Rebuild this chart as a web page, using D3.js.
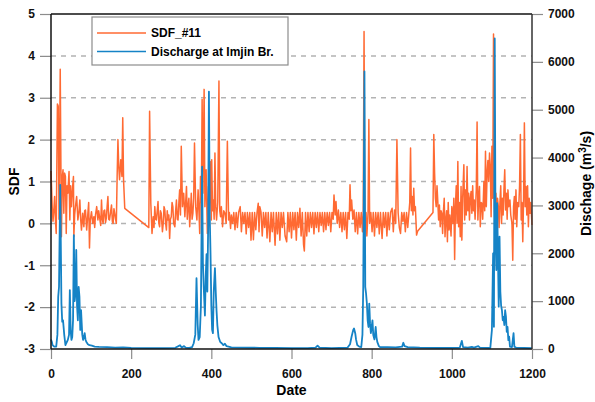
<!DOCTYPE html>
<html>
<head>
<meta charset="utf-8">
<script src="https://cdn.jsdelivr.net/npm/d3@7"></script>
<style>
  body { margin: 0; background: #fff; }
  text { font-family: "Liberation Sans", Arial, sans-serif; font-weight: bold; }
</style>
</head>
<body>
<svg id="SVG_CONTAINER" width="595" height="402"></svg>
<script>
let d3 = window.d3;

// SDF_#11 : [date, SDF]
const sdfData = [
  [0,1.25],[3,0.4],[5,0.05],[7,0.3],[9,0.64],[11,0.1],[13,-0.24],[16,2.85],[18,2.8],[20,0.1],
  [23,3.68],[26,-0.32],[28,1.1],[30,1.28],[32,0.24],[34,1.2],[36,1.12],[38,-0.24],[40,0.9],[42,0.72],
  [45,1.24],[47,0.08],[49,0.9],[51,0.4],[54,0.88],[56,1.12],[57,-0.32],[59,0.2],[61,0.4],[64,0.64],
  [67,0.08],[70,0.3],[72,0.56],[74,0.1],[76,-0.16],[79,0.24],[82,-0.08],[84,0.3],[86,0.32],[89,-0.16],
  [92,0.24],[94,0.5],[96,-0.59],[98,0.08],[101,0.28],[104,0],[107,0.16],[109,-0.1],[111,0.2],[114,0.4],
  [117,0.08],[119,0.3],[121,0.16],[124,-0.05],[126,0.56],[128,0.1],[130,0],[132,0.3],[134,0.32],[136,0.02],
  [138,0.12],[140,0.4],[142,0.64],[144,0.1],[146,0.08],[149,0.3],[151,0.44],[153,0.05],[155,0],[157,0.35],
  [159,0.24],[161,0.1],[163,0],
  [165,1.12],[167,2.0],[169,1.36],[171,1.04],[174,1.52],[177,1.12],[179,2.52],[181,1.04],[184,0.36],[244,-0.1],
  [246,2.68],[249,0.48],[252,-0.24],[255,0.16],[257,-0.1],[259,0.4],[261,0.1],[263,0.08],[265,0.3],[267,0.52],
  [269,0.0],[271,-0.08],[273,0.3],[275,0.24],[278,-0.2],[280,0],[282,0.4],[284,0.32],[286,0.0],[288,-0.16],
  [290,0.3],[292,0.08],[294,0.2],[296,-0.36],[298,0.1],[300,0.16],[302,0.5],[304,0.4],[306,0.0],[309,-0.08],
  [311,0.3],[313,0.56],[315,0.1],[317,0.08],[319,0.5],[321,0.8],[323,0.2],[325,1.84],[328,0.4],[331,0.72],
  [334,0.16],[336,0.5],[338,0.88],[340,0.1],[342,0.4],[344,0.6],[346,-0.08],[348,0.3],[350,0.72],[352,0.1],
  [354,0.24],[356,0.6],[358,1.92],[361,0.4],[364,0.08],[367,0.8],[369,0.3],[371,-0.24],[373,1.12],[375,0.5],
  [377,2.96],[379,0.72],[382,3.2],[384,0.4],[387,1.28],[390,-0.24],[393,0.88],[395,0.3],[397,1.48],[400,0.08],
  [401,1.52],[403,0.3],[405,0.56],[407,0.1],[409,1.68],[411,0.4],[413,0.08],[416,0.5],[419,3.4],[421,0.3],
  [423,0.16],[425,0.4],[428,-0.08],[431,0.3],[434,0.24],[437,0.0],[440,1.96],[443,0.08],[445,0.26],[448,-0.12],
  [450,0.2],[453,0],[456,0.26],[459,-0.15],
  [462,0.26],[465,-0.1],[468,0.26],[472,0.4],[475,-0.2],[478,0.26],[481,0.0],[484,0.26],[487,-0.25],[490,0.26],
  [493,-0.1],[496,0.26],[499,-0.4],[502,0.26],[505,-0.39],[508,0.26],[511,-0.15],[514,0.26],[517,0.48],[519,-0.2],
  [521,0.4],[524,0.26],[527,-0.3],[530,0.26],[533,-0.1],[536,0.26],[539,-0.35],[542,0.26],[546,-0.44],[549,0.26],
  [552,-0.2],[555,0.26],[559,-0.52],[562,0.26],[565,-0.25],[568,0.26],[571,-0.4],[574,0.26],[577,-0.1],[580,0.26],
  [584,-0.3],[588,-0.44],[591,0.26],[594,-0.2],[597,0.26],[600,-0.35],[603,0.26],[606,-0.15],[609,0.26],[612,-0.4],
  [615,0.26],[618,-0.1],[621,0.36],[624,-0.3],[627,0.26],[630,-0.5],[632,-0.66],[635,0.26],[638,-0.3],[641,0.26],
  [644,-0.2],[647,0.26],[650,-0.1],[653,0.26],[656,-0.25],[659,0.26],[662,-0.1],[665,0.26],[668,-0.2],[671,0.26],
  [674,-0.05],[677,0.26],[680,-0.2],[683,0.26],[686,-0.15],[689,0.26],[692,-0.05],[695,0.26],[698,-0.2],[701,0.26],
  [704,0.1],[706,0.68],[709,0.2],[711,0.52],[714,0.0],[717,0.32],[720,-0.1],[723,0.26],[726,-0.2],[729,0.26],
  [732,-0.15],[735,0.26],[738,-0.36],[741,0.26],[744,0.1],[746,0.92],[748,0.3],[750,0.56],[753,0.1],[756,0.32],
  [759,-0.2],[762,0.26],[765,-0.25],[768,0.26],[771,-0.1],[774,0.26],[777,-0.2],[779,0.26],[781,4.58],[783,-0.2],
  [786,0.26],[788,-0.3],[791,0.26],[793,2.48],[795,0.0],[798,0.26],[801,-0.2],[804,0.26],[807,-0.3],[810,0.26],
  [813,-0.1],[816,0.26],[819,-0.25],[822,0.26],[826,-0.36],[829,0.26],[832,-0.1],[835,0.26],[838,-0.3],[841,0.26],
  [844,-0.15],[847,0.26],[851,0.36],[854,-0.2],[857,0.32],[860,0.0],[863,2.0],[866,0.26],[869,-0.1],[872,-0.24],
  [875,0.26],[878,0.05],[881,0.26],[884,-0.2],[887,0.26],[890,-0.1],[893,0.26],[895,0.5],[897,1.8],[899,0.3],
  [901,0.64],[903,0.2],[905,0.84],[907,0.3],[909,0.4],[912,-0.28],[915,-0.18],[953,0.26],
  [955,2.12],[957,1.2],[959,0.6],[961,0.4],[963,0.9],[965,0.52],[967,0.08],[969,0.44],[971,-0.08],[973,0.3],
  [975,0.24],[977,-0.24],[979,0.28],[981,0.6],[983,-0.32],[985,0.08],[987,0.3],[989,-0.44],[991,0.5],[993,-0.16],
  [995,0.2],[998,-0.3],[1000,0.4],[1003,0.0],[1005,0.6],[1007,-0.86],[1009,0.4],[1011,0.9],[1013,0.0],[1015,1.48],
  [1017,-0.08],[1019,0.5],[1021,-0.32],[1023,0.88],[1025,-0.4],[1027,0.6],[1030,1.4],[1032,0.08],[1034,0.8],[1036,0.2],
  [1038,1.36],[1040,0.3],[1042,0.72],[1044,0.08],[1046,0.6],[1048,0.76],[1050,0.24],[1052,0.9],[1054,0.3],[1056,0.56],
  [1058,0.1],[1061,0.8],[1063,2.42],[1065,0.08],[1067,0.6],[1069,0.88],[1071,-0.08],[1073,0.5],[1075,0.48],[1077,0.1],
  [1080,1.0],[1082,0.3],[1084,1.72],[1086,0.4],[1088,1.2],[1090,1.5],[1092,1.0],[1094,1.68],[1096,1.36],[1098,0.16],
  [1100,1.84],[1102,0.6],[1104,4.52],[1106,0.4],[1108,-0.08],[1110,0.72],[1112,0.08],[1114,0.6],[1116,0.4],[1118,-0.1],
  [1120,0.5],[1122,0.9],[1124,0.0],[1126,0.6],[1128,0.2],[1130,0.8],[1132,1.28],[1134,0.32],[1136,0.72],[1138,0.1],
  [1140,0.8],[1142,0.4],[1145,0.56],[1147,0.2],[1150,0.0],[1152,-0.88],[1154,0.4],[1156,0.64],[1158,0.1],[1160,0.8],
  [1162,-0.08],[1164,0.5],[1167,0.4],[1169,0.9],[1171,2.12],[1173,0.08],[1175,0.5],[1177,-0.44],[1179,0.6],[1181,2.4],
  [1183,0.4],[1185,0.88],[1187,0.2],[1189,0.9],[1191,-0.08],[1193,0.6],[1195,0.24],[1197,0.5],[1200,-0.04]
];

// Discharge at Imjin Br. : [date, m3/s]
const dischargeData = [
  [0,200],[2,150],[4,80],[8,50],[13,50],[16,300],[18,1090],[20,1300],[23,3430],[26,950],
  [28,570],[30,600],[33,300],[36,80],[38,120],[42,190],[45,300],[47,1230],[49,400],[51,190],
  [53,250],[55,600],[57,2380],[59,1000],[61,1160],[63,2070],[65,900],[67,600],[69,1300],[71,1090],
  [73,400],[75,810],[78,300],[80,190],[82,250],[84,330],[86,200],[88,150],[92,100],[96,80],
  [102,70],[109,50],[120,45],[140,40],[160,30],[180,35],[200,25],[240,20],[280,20],[310,25],
  [318,60],[322,80],[326,30],[332,60],[336,30],[345,25],[352,40],[356,120],[360,300],[363,1480],
  [366,500],[368,190],[371,250],[374,900],[377,3810],[379,1800],[381,1300],[384,700],[386,1500],[388,1980],
  [390,1200],[392,2500],[394,5380],[396,2800],[398,1980],[400,900],[402,400],[404,330],[406,1200],[409,1690],
  [411,1200],[413,800],[415,500],[418,250],[422,150],[426,120],[430,80],[434,110],[438,60],[450,35],
  [480,30],[520,25],[560,25],[600,20],[640,20],[660,30],[665,70],[670,30],[700,20],[740,30],
  [746,100],[750,260],[754,400],[756,430],[759,330],[761,200],[764,84],[769,50],[774,40],[777,300],
  [779,1300],[782,5800],[784,1300],[786,1160],[788,955],[790,600],[792,460],[794,950],[796,535],[798,330],
  [800,460],[802,600],[804,290],[807,200],[810,460],[812,250],[814,150],[818,60],[821,40],[840,40],
  [860,35],[876,50],[879,130],[882,60],[890,40],[920,30],[960,25],[1000,25],[1020,30],[1025,170],
  [1028,40],[1040,30],[1050,45],[1055,30],[1066,60],[1070,30],[1090,25],[1096,25],[1100,400],[1103,2000],
  [1105,465],[1107,6490],[1109,2350],[1111,1650],[1113,3050],[1115,2000],[1117,885],[1119,2350],[1121,1200],[1123,900],
  [1125,810],[1127,600],[1129,670],[1131,500],[1133,810],[1135,675],[1137,360],[1139,460],[1141,186],[1143,260],
  [1145,50],[1150,40],[1154,330],[1156,50],[1160,30],[1180,25],[1200,20]
];

const xTicks = [0, 200, 400, 600, 800, 1000, 1200];
const sdfTicks = [-3, -2, -1, 0, 1, 2, 3, 4, 5];
const qTicks = [0, 1000, 2000, 3000, 4000, 5000, 6000, 7000];
const gridLevels = [-2, -1, 0, 1, 2, 3, 4];

const MARGIN = { LEFT: 51, RIGHT: 63, TOP: 14, BOTTOM: 53 };
const width = 595, height = 402;
const ORANGE = "#ff6a33", BLUE = "#1583c6";

let svg = d3.select("#SVG_CONTAINER");

let xScale = d3.scaleLinear().domain([0, 1200]).range([MARGIN.LEFT, width - MARGIN.RIGHT]);
let yScale = d3.scaleLinear().domain([-3, 5]).range([height - MARGIN.BOTTOM, MARGIN.TOP]);
let qScale = d3.scaleLinear().domain([0, 7000]).range([height - MARGIN.BOTTOM, MARGIN.TOP]);

let x0 = xScale(0), x1 = xScale(1200), yTop = yScale(5), yBot = yScale(-3);

// dashed grid
svg.append("g").selectAll("line")
  .data(gridLevels)
  .enter().append("line")
  .attr("x1", x0).attr("x2", x1)
  .attr("y1", d => yScale(d)).attr("y2", d => yScale(d))
  .attr("stroke", "#b3b3b3")
  .attr("stroke-width", 1.5)
  .attr("stroke-dasharray", "5,5");

// lines
let sdfLine = d3.line().x(d => xScale(d[0])).y(d => yScale(d[1]));
let qLine = d3.line().x(d => xScale(d[0])).y(d => qScale(d[1]));

svg.append("path").datum(sdfData)
  .attr("d", sdfLine).attr("fill", "none")
  .attr("stroke", ORANGE).attr("stroke-width", 1.5).attr("stroke-linejoin", "round");

svg.append("path").datum(dischargeData)
  .attr("d", qLine).attr("fill", "none")
  .attr("stroke", BLUE).attr("stroke-width", 1.8).attr("stroke-linejoin", "round");

// axes
function styleAxis(g) {
  g.select(".domain").remove();
  g.selectAll(".tick line").attr("stroke", "#8c8c8c").attr("stroke-width", 1.2);
  g.selectAll(".tick text").attr("fill", "#111").style("font-size", "12px");
}

svg.append("g")
  .attr("transform", "translate(" + x0 + ",0)")
  .call(d3.axisLeft(yScale).tickValues(sdfTicks).tickSize(11).tickPadding(5).tickFormat(d => String(d)))
  .call(styleAxis);

svg.append("g")
  .attr("transform", "translate(" + x1 + ",0)")
  .call(d3.axisRight(qScale).tickValues(qTicks).tickSize(11).tickPadding(5).tickFormat(d => String(d)))
  .call(styleAxis);

svg.append("g")
  .attr("transform", "translate(0," + yBot + ")")
  .call(d3.axisBottom(xScale).tickValues(xTicks).tickSize(10).tickPadding(10).tickFormat(d => String(d)))
  .call(styleAxis);

// frame
svg.append("line").attr("x1", x0).attr("x2", x1).attr("y1", yTop).attr("y2", yTop).attr("stroke", "#111").attr("stroke-width", 1.5);
svg.append("line").attr("x1", x0).attr("x2", x1).attr("y1", yBot).attr("y2", yBot).attr("stroke", "#111").attr("stroke-width", 1.5);
svg.append("line").attr("x1", x0).attr("x2", x0).attr("y1", yTop).attr("y2", yBot).attr("stroke", "#111").attr("stroke-width", 1.5);
svg.append("line").attr("x1", x1).attr("x2", x1).attr("y1", yTop).attr("y2", yBot).attr("stroke", "#333").attr("stroke-width", 1.5);

// axis labels
svg.append("text")
  .attr("text-anchor", "middle")
  .attr("x", (x0 + x1) / 2).attr("y", 395)
  .style("font-size", "14px")
  .text("Date");

svg.append("text")
  .attr("text-anchor", "middle")
  .attr("transform", "translate(19," + ((yTop + yBot) / 2) + ") rotate(-90)")
  .style("font-size", "14px")
  .text("SDF");

let rLabel = svg.append("text")
  .attr("text-anchor", "middle")
  .attr("transform", "translate(591," + ((yTop + yBot) / 2 + 2) + ") rotate(-90)")
  .style("font-size", "14px");
rLabel.append("tspan").text("Dischage (m");
rLabel.append("tspan").attr("dy", -5).style("font-size", "10px").text("3");
rLabel.append("tspan").attr("dy", 5).text("/s)");

// legend
let legend = svg.append("g").attr("transform", "translate(92,17)");
legend.append("rect")
  .attr("width", 196).attr("height", 48)
  .attr("fill", "#fff").attr("stroke", "#8c8c8c").attr("stroke-width", 1.2);

let legendItems = [
  { label: "SDF_#11", color: ORANGE },
  { label: "Discharge at Imjin Br.", color: BLUE }
];
legendItems.forEach((item, i) => {
  let cy = 16 + i * 18.5;
  legend.append("line")
    .attr("x1", 5).attr("x2", 54).attr("y1", cy).attr("y2", cy)
    .attr("stroke", item.color).attr("stroke-width", 1.6);
  legend.append("text")
    .attr("x", 59).attr("y", cy).attr("dy", "0.35em")
    .style("font-size", "12px")
    .text(item.label);
});
</script>
</body>
</html>
